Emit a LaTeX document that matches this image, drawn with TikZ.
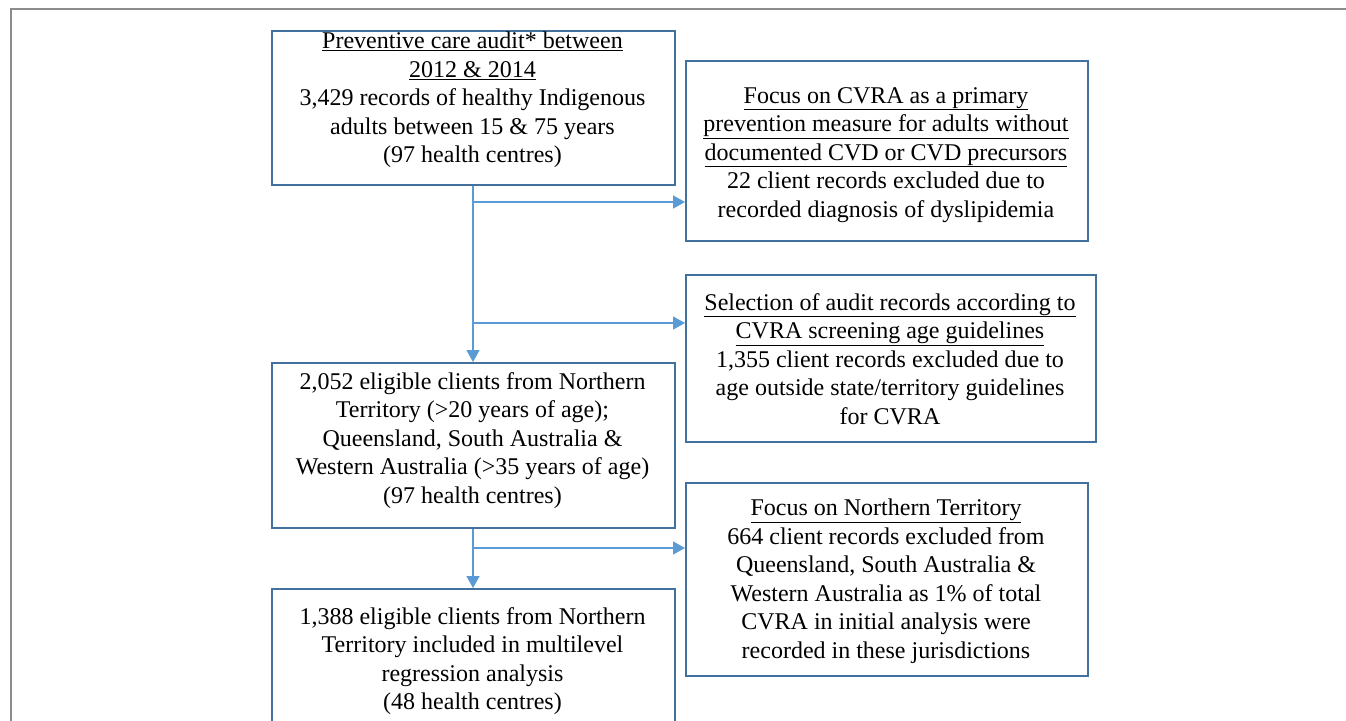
\documentclass[tikz,border=0pt]{standalone}
\usepackage{fontspec}
\setmainfont{Liberation Serif}
\usetikzlibrary{arrows.meta}
\definecolor{boxblue}{HTML}{41719C}
\definecolor{lineblue}{HTML}{5B9BD5}
\definecolor{framegray}{HTML}{8C8C8C}
\begin{document}
\begin{tikzpicture}[x=1pt,y=-1pt,
  box/.style={draw=boxblue, line width=2pt, inner sep=0pt, anchor=north west},
  txt/.style={anchor=north, align=center, inner sep=0pt, font=\fontsize{24}{28.5}\selectfont},
  flow/.style={draw=lineblue, line width=1.6pt, -{Triangle[length=12pt,width=13pt]}}]
\clip (0,0) rectangle (1346,720);
\fill[white] (0,0) rectangle (1346,720);
\draw[framegray, line width=1.5pt] (11,9) rectangle (1400,780);

% boxes
\node[box, minimum width=403pt, minimum height=154pt] (A) at (271,30) {};
\node[box, minimum width=402pt, minimum height=180pt] (B) at (685,60) {};
\node[box, minimum width=410pt, minimum height=167pt] (C) at (685,274) {};
\node[box, minimum width=403pt, minimum height=165pt] (D) at (271,362) {};
\node[box, minimum width=402pt, minimum height=193pt] (E) at (685,482) {};
\node[box, minimum width=403pt, minimum height=170pt] (F) at (271,588) {};

% texts
\node[txt] (tA) at (472.5,32) {\underline{Preventive care audit* between}\\ \underline{2012 \& 2014}\\ 3,429 records of healthy Indigenous\\ adults between 15 \& 75 years\\ (97 health centres)};
\node[txt] (tB) at (886,87) {\underline{Focus on CVRA as a primary}\\ \underline{prevention measure for adults without}\\ \underline{documented CVD or CVD precursors}\\ 22 client records excluded due to\\ recorded diagnosis of dyslipidemia};
\node[txt] (tC) at (890,293) {\underline{Selection of audit records according to}\\ \underline{CVRA screening age guidelines}\\ 1,355 client records excluded due to\\ age outside state/territory guidelines\\ for CVRA};
\node[txt] (tD) at (472.5,372) {2,052 eligible clients from Northern\\ Territory (>20 years of age);\\ Queensland, South Australia \&\\ Western Australia (>35 years of age)\\ (97 health centres)};
\node[txt] (tE) at (886,499) {\underline{Focus on Northern Territory}\\ 664 client records excluded from\\ Queensland, South Australia \&\\ Western Australia as 1\% of total\\ CVRA in initial analysis were\\ recorded in these jurisdictions};
\node[txt] (tF) at (472.5,607) {1,388 eligible clients from Northern\\ Territory included in multilevel\\ regression analysis\\ (48 health centres)};

% connectors
\coordinate (j1) at (473,202);
\coordinate (j2) at (473,323);
\coordinate (j3) at (473,548);
\draw[flow] (j1 |- A.south) -- (j1 |- D.north);
\draw[flow] (j1) -- (j1 -| B.west);
\draw[flow] (j2) -- (j2 -| C.west);
\draw[flow] (j3 |- D.south) -- (j3 |- F.north);
\draw[flow] (j3) -- (j3 -| E.west);
\end{tikzpicture}
\end{document}
